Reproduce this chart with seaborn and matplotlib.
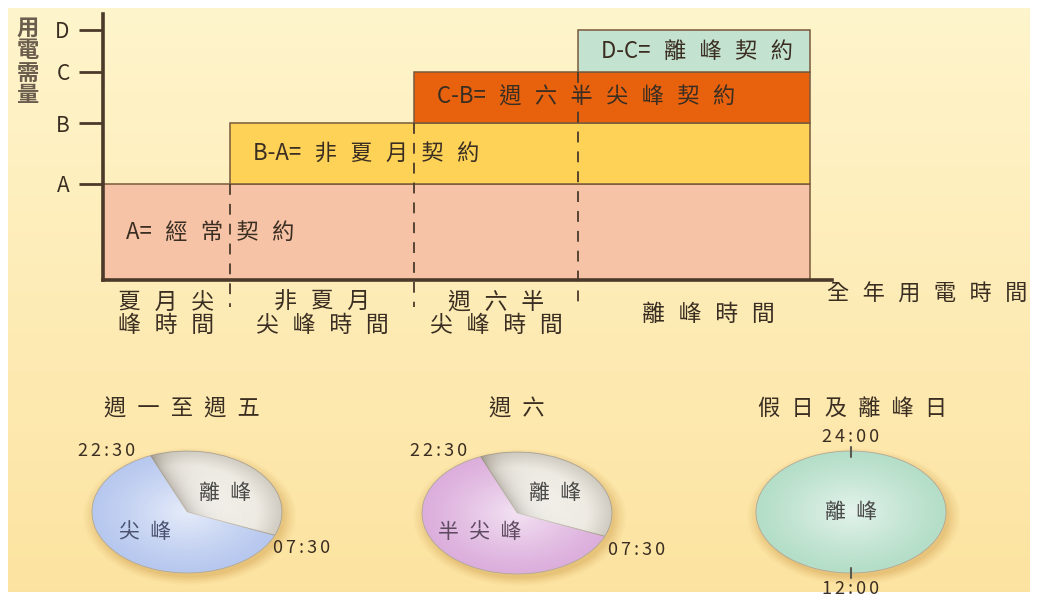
import numpy as np
import matplotlib
matplotlib.use('Agg')
import matplotlib.pyplot as plt
import seaborn as sns
from matplotlib.patches import Circle

# ---- data ----
periods = ['夏月尖\n峰時間', '非夏月\n尖峰時間', '週六半\n尖峰時間', '離峰時間']
period_len = [127, 184, 164, 232]          # share of the year axis
level_names = ['A', 'B', 'C', 'D']
levels = [96, 157, 208, 250]               # contract demand levels
contracts = ['A=經常契約', 'B-A=非夏月契約', 'C-B=週六半尖峰契約', 'D-C=離峰契約']
contract_colors = ['#F7C3A6', '#FDD257', '#E8620E', '#C4E2D0']

pie_titles = ['週一至週五', '週六', '假日及離峰日']
pie_labels = [['離峰', '尖峰'], ['離峰', '半尖峰'], ['離峰']]
pie_hours = [[9, 15], [9, 15], [24]]
pie_colors = [['#ECE8DF', '#B7C8EF'], ['#ECE8DF', '#DCAEDC'], ['#B4DEC8']]
pie_marks = [['22:30', '07:30'], ['22:30', '07:30'], ['24:00', '12:00']]

W, H = 1039, 600
INK = '#3A2E22'
LINE = '#4B3A2A'

sns.set_theme(style='white')
plt.rcParams['font.family'] = ['Noto Sans CJK TC', 'DejaVu Sans']
plt.rcParams['font.weight'] = 'medium'

EN = '\u2002'          # en space
WIDE = '\u2002\u200a'  # en + hair space


def spaced(s, gap=EN, latin_gap=''):
    # the original lettering is drawn wide; mimic it with tracking
    lines = []
    for line in s.split('\n'):
        out = ''
        for a, b in zip(line, line[1:] + ' '):
            out += a
            if b == ' ' and a == line[-1]:
                continue
            out += gap if (ord(a) > 0x2E80 or ord(b) > 0x2E80) else latin_gap
        lines.append(out)
    return '\n'.join(lines)


fig = plt.figure(figsize=(W / 100, H / 100), dpi=100)
fig.patch.set_facecolor('white')

# background panel with a soft vertical gradient
bg = fig.add_axes([8 / W, 8 / H, 1 - 17 / W, 1 - 16 / H])
grad = np.linspace(0, 1, 256)[:, None]
top = np.array([1.0, 0.96, 0.80])
bot = np.array([0.99, 0.89, 0.63])
bg.imshow(top + (bot - top) * grad[..., None], aspect='auto', extent=[0, 1, 0, 1])
bg.set_axis_off()

# ---- contract step chart ----
ax = fig.add_axes([103 / W, 1 - 280 / H, 729 / W, 266 / H])
ax.set_facecolor('none')
ax.set_xlim(0, 729)
ax.set_ylim(0, 266)

starts = np.concatenate([[0], np.cumsum(period_len)[:-1]])
end = sum(period_len)
bottoms = [0] + levels[:-1]
for i, lab in enumerate(contracts):
    ax.bar(starts[i], levels[i] - bottoms[i], width=end - starts[i], bottom=bottoms[i],
           align='edge', color=contract_colors[i], edgecolor='#7A5A3C', linewidth=1.1, zorder=2)
    ax.text(starts[i] + 23, (levels[i] + bottoms[i]) / 2, spaced(lab, WIDE),
            fontsize=16, color=INK, va='center', ha='left', zorder=4)
    if i > 0:
        ax.plot([starts[i], starts[i]], [bottoms[i], -27], color=LINE, lw=1.3,
                dashes=(6, 5), clip_on=False, zorder=3)

for i, p in enumerate(periods):
    ax.text(starts[i] + period_len[i] / 2 + (14 if i == 3 else 0), -34, spaced(p, WIDE),
            fontsize=16.5, color=INK, ha='center', va='center', linespacing=1.05)

ax.set_xticks([])
ax.set_yticks(levels)
ax.set_yticklabels(level_names)
ax.tick_params(axis='y', length=17, width=2, color=LINE, labelsize=15,
               labelcolor=INK, pad=7, left=True)
for s in ['top', 'right']:
    ax.spines[s].set_visible(False)
for s in ['left', 'bottom']:
    ax.spines[s].set_color(LINE)
    ax.spines[s].set_linewidth(2.6)
    ax.spines[s].set_zorder(5)

fig.text(28 / W, 1 - 62 / H, '用\n電\n需\n量', fontsize=16, fontweight='bold',
         color='#6B5D4D', ha='center', va='center', linespacing=0.98)
fig.text(927 / W, 1 - 294 / H, spaced('全年用電時間', WIDE), fontsize=16, color=INK,
         ha='center', va='center')

# ---- daily time-of-use pies ----
centers = [(187, 512), (517, 513), (851, 512)]
hw, hh, lim = 95, 61, 1.35
label_pos = [[(0.40, 0.31), (-0.44, -0.33)], [(0.40, 0.33), (-0.39, -0.31)], [(0, 0)]]
mark_pos = [[(-0.85, 1.0), (1.21, -0.59)], [(-0.83, 1.02), (1.26, -0.61)], [(0, 1.23), (0, -1.26)]]
label_colors = [['#4A4A48', '#4A5270'], ['#4A4A48', '#5E4A60'], ['#4A4A48']]

yy, xx = np.mgrid[-1:1:300j, -1:1:300j]
rr = np.hypot(xx, yy)
fold = np.deg2rad(112.5)
fold_dist = np.abs(xx * np.sin(fold) - yy * np.cos(fold))

for k, (cx, cy) in enumerate(centers):
    pa = fig.add_axes([(cx - hw * lim) / W, 1 - (cy + hh * lim) / H,
                       2 * hw * lim / W, 2 * hh * lim / H])
    # soft shadow under the disc
    for r, a in zip(np.linspace(1.12, 1.0, 6), np.linspace(0.03, 0.07, 6)):
        pa.add_patch(Circle((0.03, -0.07), r, color='#B87818', alpha=a, lw=0, zorder=0))
    wedges, _ = pa.pie(pie_hours[k], colors=pie_colors[k], startangle=112.5,
                       counterclock=False, radius=1,
                       wedgeprops=dict(edgecolor='#B0A898', linewidth=0.6))
    for w in wedges:
        w.set_zorder(1)
    shine = np.zeros(rr.shape + (4,))
    shine[..., :3] = 1.0
    shine[..., 3] = np.clip(0.65 * (1 - rr) ** 1.2, 0, 1) * (rr <= 1)
    im = pa.imshow(shine, extent=[-1, 1, -1, 1], origin='lower', zorder=2)
    im.set_clip_path(Circle((0, 0), 1, transform=pa.transData))
    if len(wedges) > 1:
        # folded-paper shading on the off-peak slice
        shade = np.zeros(rr.shape + (4,))
        shade[..., :3] = np.array([0.50, 0.47, 0.42])
        shade[..., 3] = 0.45 * np.exp(-fold_dist / 0.12) + 0.25 * np.clip(rr - 0.75, 0, 1) / 0.25
        sm = pa.imshow(shade, extent=[-1, 1, -1, 1], origin='lower', zorder=2.5)
        sm.set_clip_path(wedges[0])
    pa.set_xlim(-lim, lim)
    pa.set_ylim(-lim, lim)
    pa.set_aspect('auto')
    pa.set_axis_off()

    for lab, (x, y), c in zip(pie_labels[k], label_pos[k], label_colors[k]):
        pa.text(x, y, spaced(lab), fontsize=15, color=c, ha='center', va='center', zorder=3)
    for m, (x, y) in zip(pie_marks[k], mark_pos[k]):
        pa.text(x, y, spaced(m, '\u2006', '\u2006'), fontsize=13, color=INK, ha='center',
                va='center', zorder=3)
    if k == 2:
        pa.plot([0, 0], [0.9, 1.07], color='#5A5A50', lw=1.5, zorder=3)
        pa.plot([0, 0], [-0.92, -1.08], color='#5A5A50', lw=1.5, zorder=3)

title_x = [182, 517, 853]
for t, x in zip(pie_titles, title_x):
    fig.text(x / W, 1 - 409 / H, spaced(t, EN), fontsize=16, color=INK,
             ha='center', va='center')

fig.savefig('out.png', dpi=100)
